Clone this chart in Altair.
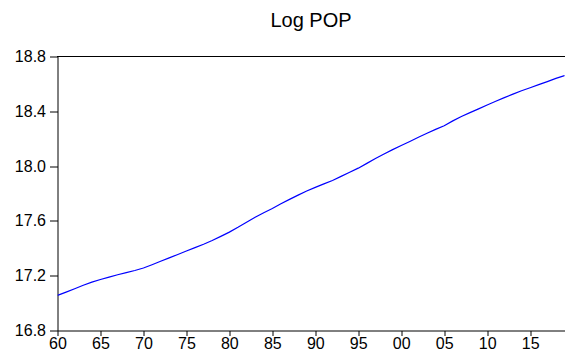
import altair as alt
import pandas as pd

years = list(range(1960, 2021))
log_pop = [
    17.056, 17.080, 17.105, 17.130, 17.153, 17.172, 17.190, 17.207, 17.222, 17.238,
    17.256, 17.280, 17.305, 17.330, 17.355, 17.380, 17.405, 17.430, 17.457, 17.487,
    17.518, 17.553, 17.590, 17.627, 17.660, 17.690, 17.725, 17.757, 17.788, 17.818,
    17.845, 17.870, 17.895, 17.925, 17.955, 17.985, 18.020, 18.055, 18.088, 18.120,
    18.150, 18.180, 18.210, 18.240, 18.268, 18.295, 18.330, 18.362, 18.390, 18.418,
    18.446, 18.473, 18.500, 18.525, 18.550, 18.572, 18.595, 18.617, 18.640, 18.660,
    18.680,
]
x_ticks = list(range(1960, 2020, 5))
y_ticks = [16.8, 17.2, 17.6, 18.0, 18.4, 18.8]
y_top = 18.8

df = pd.DataFrame({"year": years, "value": log_pop})

FONT = "Liberation Sans"
x_scale = alt.Scale(domain=[1960, 2019], nice=False, zero=False)
y_scale = alt.Scale(domain=[16.8, 18.8], nice=False, zero=False)

x_axis = alt.Axis(
    values=x_ticks,
    labelExpr="substring(toString(datum.value), 2, 4)",
    title=None,
    grid=False,
    domainColor="black",
    tickColor="black",
    tickSize=5,
    labelPadding=0,
    labelFont=FONT,
    labelFontSize=16,
    labelColor="black",
    labelFlush=False,
    labelOverlap=False,
)
y_axis = alt.Axis(
    values=y_ticks,
    format=".1f",
    title=None,
    grid=False,
    domainColor="black",
    tickColor="black",
    tickSize=8,
    labelPadding=4,
    labelFont=FONT,
    labelFontSize=16,
    labelColor="black",
    labelFlush=False,
    labelOverlap=False,
)

base = alt.Chart(df)

line = base.mark_line(color="#0000FF", strokeWidth=1.2, clip=True).encode(
    x=alt.X("year:Q", scale=x_scale, axis=x_axis),
    y=alt.Y("value:Q", scale=y_scale, axis=y_axis),
)

# top frame line of the plot box
top_frame = alt.Chart().mark_rule(color="black", strokeWidth=1).encode(
    y=alt.Y(datum=y_top, type="quantitative", scale=y_scale, axis=y_axis),
)

chart = (
    alt.layer(line, top_frame, data=df)
    .properties(
        width=507,
        height=274,
        autosize=alt.AutoSizeParams(type="none"),
        padding={"left": 49.5, "top": 48.5, "right": 0.5, "bottom": 21.5},
        title=alt.TitleParams(
            "Log POP",
            font=FONT,
            fontSize=20,
            fontWeight="normal",
            color="black",
            anchor="middle",
            offset=18,
        ),
    )
    .configure(background="white")
    .configure_view(stroke=None)
)

chart.save("out.html", embed_options={"renderer": "svg", "actions": False})
